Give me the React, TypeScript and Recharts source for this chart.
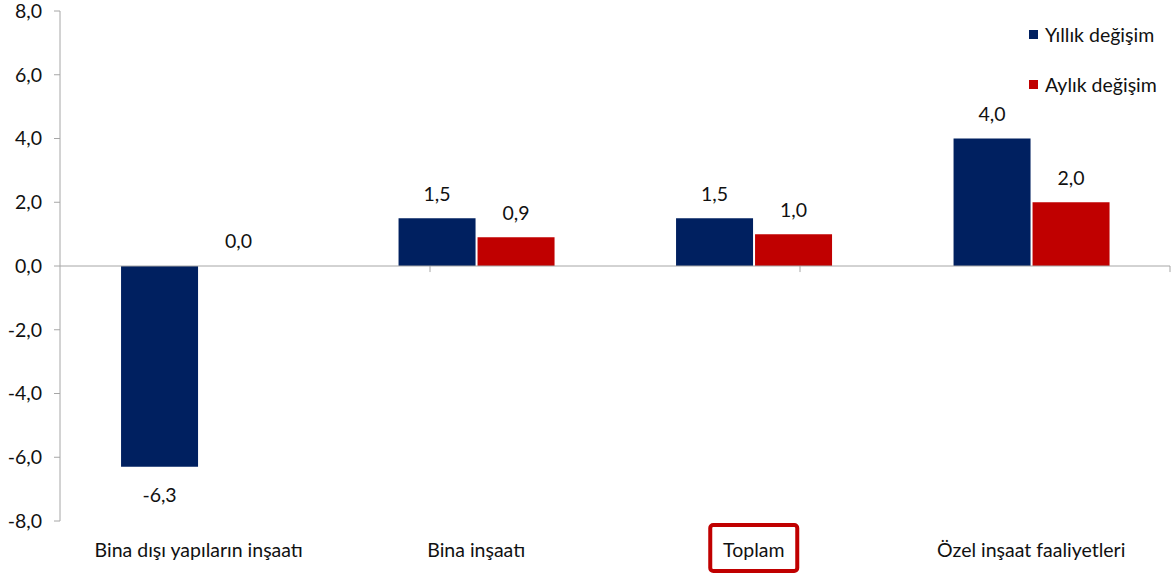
import { BarChart, Bar, XAxis, YAxis, ReferenceLine } from 'recharts';

const categories = ['Bina dışı yapıların inşaatı', 'Bina inşaatı', 'Toplam', 'Özel inşaat faaliyetleri'];
const yillik = [-6.3, 1.5, 1.5, 4.0];
const aylik = [0.0, 0.9, 1.0, 2.0];
const yTicks = [-8, -6, -4, -2, 0, 2, 4, 6, 8];
const boundaries = [1, 2, 3, 4];
const highlighted = 'Toplam';
const seriesNames = ['Yıllık değişim', 'Aylık değişim'];

const NAVY = '#002060';
const RED = '#C00000';
const GRAY = '#A6A6A6';
const FONT = 'Lato, "Noto Sans", sans-serif';
const FS = 19.5;

const data = categories.map((name, i) => ({ name, yillik: yillik[i], aylik: aylik[i] }));

const fmt = (v: number) => v.toFixed(1).replace('.', ',');

function ValueLabel(props: any) {
  const { x, y, width, height, value } = props;
  const h = Number(height) || 0;
  const top = Math.min(y, y + h);
  const bottom = Math.max(y, y + h);
  const cy = value >= 0 ? top - 25 : bottom + 28;
  return (
    <text x={x + width / 2} y={cy} textAnchor="middle" dominantBaseline="central"
      fontSize={FS} fontFamily={FONT} fill="#111">
      {fmt(Number(value))}
    </text>
  );
}

function CategoryTick(props: any) {
  const { x, y, payload } = props;
  const boxed = payload.value === highlighted;
  return (
    <g>
      {boxed && (
        <rect x={x - 43.5} y={y + 4} width={87} height={46} rx={3}
          fill="none" stroke={RED} strokeWidth={4} />
      )}
      <text x={x} y={y + 28} textAnchor="middle" dominantBaseline="central"
        fontSize={FS} fontFamily={FONT} fill="#111">
        {payload.value}
      </text>
    </g>
  );
}

export default function App() {
  const colors = [NAVY, RED];
  return (
    <div style={{ position: 'absolute', left: 0, top: 0, width: 1172, height: 575, background: '#fff' }}>
      <BarChart width={1172} height={575} data={data}
        margin={{ top: 11, right: 2, bottom: 0, left: 0 }}
        barCategoryGap="22%" barGap={2}>
        <XAxis dataKey="name" height={54} axisLine={false} tickLine={false}
          tickSize={0} tickMargin={0} tick={<CategoryTick />} interval={0} />
        <XAxis xAxisId="edge" type="number" domain={[0, 4]} hide />
        <YAxis width={60} domain={[-8, 8]} ticks={yTicks} interval={0}
          tickFormatter={fmt} axisLine={{ stroke: GRAY }} tickLine={{ stroke: GRAY }}
          tickSize={6} tickMargin={12}
          tick={{ fontSize: FS, fill: '#111', fontFamily: FONT }} />
        <ReferenceLine y={0} stroke={GRAY} strokeWidth={1} />
        {boundaries.map(b => (
          <ReferenceLine key={b} xAxisId="edge" stroke={GRAY}
            segment={[{ x: b, y: 0 }, { x: b, y: -0.19 }]} />
        ))}
        <Bar dataKey="yillik" fill={NAVY} minPointSize={0.01} isAnimationActive={false} label={<ValueLabel />} />
        <Bar dataKey="aylik" fill={RED} minPointSize={0.01} isAnimationActive={false} label={<ValueLabel />} />
      </BarChart>
      <div style={{ position: 'absolute', left: 1029, top: 9, fontFamily: FONT, fontSize: FS, color: '#111' }}>
        {seriesNames.map((n, i) => (
          <div key={n} style={{ display: 'flex', alignItems: 'center', height: 50 }}>
            <span style={{ width: 9, height: 9, background: colors[i], marginRight: 7, display: 'inline-block' }} />
            <span>{n}</span>
          </div>
        ))}
      </div>
    </div>
  );
}
